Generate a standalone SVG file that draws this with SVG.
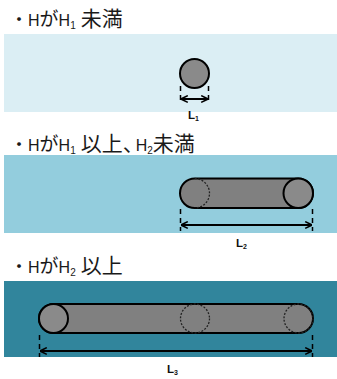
<svg xmlns="http://www.w3.org/2000/svg" width="337" height="379" viewBox="0 0 337 379">
<style>
.title{font-family:"Noto Sans CJK JP","Noto Sans",sans-serif;font-size:21px;fill:#1a1a1a}
.dot{font-size:18px}
.lat{font-family:"Liberation Sans",Arial,sans-serif;font-size:16px}
.sub{font-family:"Liberation Sans",Arial,sans-serif;font-size:10px}
.kana{font-size:19px}
.comma{letter-spacing:-8px}
.lbl{font-family:"Liberation Sans",Arial,sans-serif;font-size:11.5px;font-weight:bold;fill:#111}
.lsub{font-size:7px}
.body{fill:#808080;stroke:#000;stroke-width:2}
.ball{fill:#8a8a8a;stroke:#000;stroke-width:2}
.dotted{fill:none;stroke:#222;stroke-width:1.3;stroke-dasharray:2 1.5}
.tick{stroke:#000;stroke-width:1.5;stroke-dasharray:5 4;fill:none}
.dim{stroke:#000;stroke-width:2;fill:none;marker-start:url(#ah);marker-end:url(#ah)}
</style>
<defs>
<marker id="ah" viewBox="0 0 10 10" refX="9.5" refY="5" markerWidth="8" markerHeight="9" markerUnits="userSpaceOnUse" orient="auto-start-reverse">
<path d="M1,0.8 L9.5,5 L1,9.2" fill="none" stroke="#000" stroke-width="2"/>
</marker>
</defs>
<rect width="337" height="379" fill="#fff"/>

<g id="panel1">
<rect x="4" y="34" width="333" height="78" fill="#dbeef4"/>
<text class="title" x="10" y="26"><tspan class="dot">・</tspan><tspan class="lat">H</tspan><tspan class="kana">が</tspan><tspan class="lat">H</tspan><tspan class="sub" dy="3">1</tspan><tspan dx="5" dy="-3">未満</tspan></text>
<circle class="ball" cx="194.5" cy="73.5" r="14.5"/>
<line class="tick" x1="180.5" y1="86" x2="180.5" y2="104"/>
<line class="tick" x1="208.5" y1="86" x2="208.5" y2="104"/>
<line class="dim" x1="181" y1="99" x2="208" y2="99"/>
<text class="lbl" x="188" y="119">L<tspan class="lsub" dy="2">1</tspan></text>
</g>

<g id="panel2">
<rect x="4" y="155" width="333" height="78" fill="#93cddd"/>
<text class="title" x="10" y="151"><tspan class="dot">・</tspan><tspan class="lat">H</tspan><tspan class="kana">が</tspan><tspan class="lat">H</tspan><tspan class="sub" dy="3">1</tspan><tspan dx="5" dy="-3">以上</tspan><tspan class="comma">、</tspan><tspan class="lat">H</tspan><tspan class="sub" dy="3">2</tspan><tspan dy="-3">未満</tspan></text>
<rect class="body" x="180" y="178.5" width="133" height="29.5" rx="14.75"/>
<path class="dotted" d="M194.75,178.5 A14.75,14.75 0 0 1 194.75,208"/>
<circle class="ball" cx="298.25" cy="193.25" r="14.75"/>
<line class="tick" x1="180.5" y1="209" x2="180.5" y2="231"/>
<line class="tick" x1="312.5" y1="209" x2="312.5" y2="231"/>
<line class="dim" x1="181" y1="225" x2="312" y2="225"/>
<text class="lbl" x="236" y="247">L<tspan class="lsub" dy="2">2</tspan></text>
</g>

<g id="panel3">
<rect x="4" y="281" width="333" height="76" fill="#31859c"/>
<text class="title" x="10" y="273"><tspan class="dot">・</tspan><tspan class="lat">H</tspan><tspan class="kana">が</tspan><tspan class="lat">H</tspan><tspan class="sub" dy="3">2</tspan><tspan dx="5" dy="-3">以上</tspan></text>
<rect class="body" x="39" y="304" width="274" height="29" rx="14.5"/>
<circle class="ball" cx="53.5" cy="318.5" r="14.5"/>
<circle class="dotted" cx="195" cy="318.5" r="14.5"/>
<circle class="dotted" cx="298.5" cy="318.5" r="14.5"/>
<line class="tick" x1="39.5" y1="335" x2="39.5" y2="357"/>
<line class="tick" x1="312.5" y1="335" x2="312.5" y2="357"/>
<line class="dim" x1="40" y1="351" x2="312" y2="351"/>
<text class="lbl" x="167" y="373">L<tspan class="lsub" dy="2">3</tspan></text>
</g>
</svg>
